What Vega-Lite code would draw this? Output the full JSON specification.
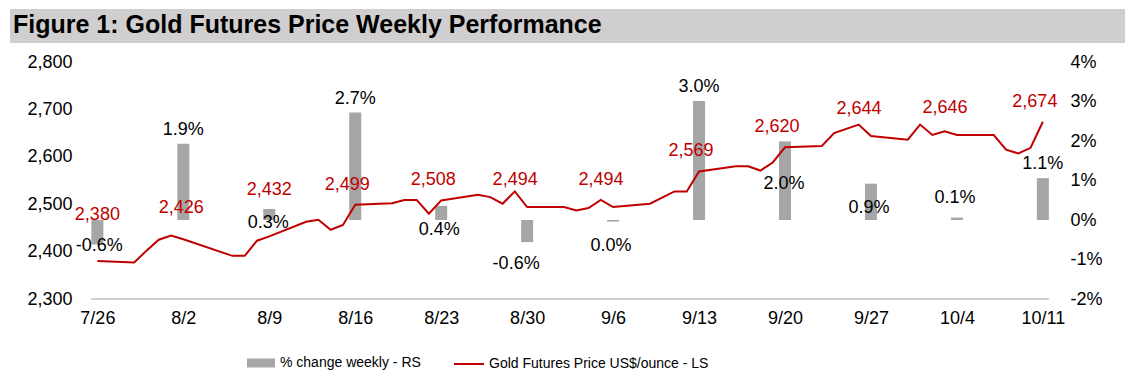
{
  "$schema": "https://vega.github.io/schema/vega-lite/v6.json",
  "padding": {"left": 10, "top": 9, "right": 5, "bottom": 0},
  "spacing": 10,
  "datasets": {
    "daily": [
      {"date": "2024-07-26", "price": 2380},
      {"date": "2024-07-29", "price": 2377},
      {"date": "2024-07-30", "price": 2402},
      {"date": "2024-07-31", "price": 2425},
      {"date": "2024-08-01", "price": 2434},
      {"date": "2024-08-02", "price": 2426},
      {"date": "2024-08-06", "price": 2391},
      {"date": "2024-08-07", "price": 2391},
      {"date": "2024-08-08", "price": 2423},
      {"date": "2024-08-09", "price": 2432},
      {"date": "2024-08-12", "price": 2463},
      {"date": "2024-08-13", "price": 2467},
      {"date": "2024-08-14", "price": 2446},
      {"date": "2024-08-15", "price": 2456},
      {"date": "2024-08-16", "price": 2499},
      {"date": "2024-08-19", "price": 2502},
      {"date": "2024-08-20", "price": 2509},
      {"date": "2024-08-21", "price": 2509},
      {"date": "2024-08-22", "price": 2480},
      {"date": "2024-08-23", "price": 2508},
      {"date": "2024-08-26", "price": 2520},
      {"date": "2024-08-27", "price": 2515},
      {"date": "2024-08-28", "price": 2501},
      {"date": "2024-08-29", "price": 2527},
      {"date": "2024-08-30", "price": 2494},
      {"date": "2024-09-02", "price": 2494},
      {"date": "2024-09-03", "price": 2487},
      {"date": "2024-09-04", "price": 2492},
      {"date": "2024-09-05", "price": 2509},
      {"date": "2024-09-06", "price": 2494},
      {"date": "2024-09-09", "price": 2501},
      {"date": "2024-09-11", "price": 2527},
      {"date": "2024-09-12", "price": 2527},
      {"date": "2024-09-13", "price": 2569},
      {"date": "2024-09-16", "price": 2580},
      {"date": "2024-09-17", "price": 2580},
      {"date": "2024-09-18", "price": 2571},
      {"date": "2024-09-19", "price": 2588},
      {"date": "2024-09-20", "price": 2620},
      {"date": "2024-09-23", "price": 2623},
      {"date": "2024-09-24", "price": 2650},
      {"date": "2024-09-26", "price": 2668},
      {"date": "2024-09-27", "price": 2644},
      {"date": "2024-09-30", "price": 2636},
      {"date": "2024-10-01", "price": 2668},
      {"date": "2024-10-02", "price": 2646},
      {"date": "2024-10-03", "price": 2654},
      {"date": "2024-10-04", "price": 2646},
      {"date": "2024-10-07", "price": 2646},
      {"date": "2024-10-08", "price": 2615},
      {"date": "2024-10-09", "price": 2607},
      {"date": "2024-10-10", "price": 2619},
      {"date": "2024-10-11", "price": 2674}
    ],
    "weekly": [
      {"date": "2024-07-26", "wk": "7/26", "price": 2380, "pct": -0.0062},
      {"date": "2024-08-02", "wk": "8/2", "price": 2426, "pct": 0.0193},
      {"date": "2024-08-09", "wk": "8/9", "price": 2432, "pct": 0.0028},
      {"date": "2024-08-16", "wk": "8/16", "price": 2499, "pct": 0.0272},
      {"date": "2024-08-23", "wk": "8/23", "price": 2508, "pct": 0.0036},
      {"date": "2024-08-30", "wk": "8/30", "price": 2494, "pct": -0.0056},
      {"date": "2024-09-06", "wk": "9/6", "price": 2494, "pct": -0.0004},
      {"date": "2024-09-13", "wk": "9/13", "price": 2569, "pct": 0.0301},
      {"date": "2024-09-20", "wk": "9/20", "price": 2620, "pct": 0.0199},
      {"date": "2024-09-27", "wk": "9/27", "price": 2644, "pct": 0.0092},
      {"date": "2024-10-04", "wk": "10/4", "price": 2646, "pct": 0.0006},
      {"date": "2024-10-11", "wk": "10/11", "price": 2674, "pct": 0.0106}
    ]
  },
  "vconcat": [
    {
      "width": 1115,
      "height": 34,
      "view": {"fill": "#d0cece", "stroke": null},
      "data": {"values": [{"t": "Figure 1: Gold Futures Price Weekly Performance"}]},
      "mark": {"type": "text", "align": "left", "baseline": "middle", "font": "Liberation Sans", "fontWeight": "bold", "fontSize": 25, "dx": 3, "dy": -1, "color": "#000000"},
      "encoding": {
        "x": {"datum": 0, "type": "quantitative", "scale": {"domain": [0, 1]}, "axis": null},
        "text": {"field": "t", "type": "nominal"}
      }
    },
    {
      "width": 1044,
      "height": 237,
      "resolve": {"scale": {"y": "independent"}},
      "layer": [
        {
          "data": {"name": "weekly"},
          "encoding": {
            "x": {"field": "date", "type": "temporal",
              "scale": {"type": "utc", "domain": [{"year": 2024, "month": 7, "date": 19, "hours": 7, "utc": true}, {"year": 2024, "month": 10, "date": 11, "hours": 12, "utc": true}]},
              "axis": {"title": null, "labelExpr": "utcFormat(datum.value, '%-m/%-d')", "labelPadding": 10, "domain": false, "labelFlush": false, "labelOverlap": false,
                "values": [
                  {"year": 2024, "month": 7, "date": 26, "utc": true},
                  {"year": 2024, "month": 8, "date": 2, "utc": true},
                  {"year": 2024, "month": 8, "date": 9, "utc": true},
                  {"year": 2024, "month": 8, "date": 16, "utc": true},
                  {"year": 2024, "month": 8, "date": 23, "utc": true},
                  {"year": 2024, "month": 8, "date": 30, "utc": true},
                  {"year": 2024, "month": 9, "date": 6, "utc": true},
                  {"year": 2024, "month": 9, "date": 13, "utc": true},
                  {"year": 2024, "month": 9, "date": 20, "utc": true},
                  {"year": 2024, "month": 9, "date": 27, "utc": true},
                  {"year": 2024, "month": 10, "date": 4, "utc": true},
                  {"year": 2024, "month": 10, "date": 11, "utc": true}
                ]}},
            "y": {"field": "pct", "type": "quantitative",
              "scale": {"domain": [-0.02, 0.04], "nice": false, "zero": false},
              "axis": {"orient": "right", "title": null, "format": ".0%", "values": [-0.02, -0.01, 0, 0.01, 0.02, 0.03, 0.04], "domain": false, "labelPadding": 16}}
          },
          "layer": [
            {
              "mark": {"type": "bar", "size": 12},
              "encoding": {
                "fill": {"datum": "% change weekly - RS", "type": "nominal", "scale": {"range": ["#a6a6a6"]},
                  "legend": {"title": null, "orient": "none", "legendX": 237, "legendY": 340, "symbolType": "M-1,-0.32H1V0.32H-1Z", "symbolSize": 784, "symbolStrokeWidth": 0, "labelFontSize": 14, "labelFont": "Liberation Sans", "labelColor": "#000000", "labelOffset": 5, "labelLimit": 400}}
              }
            },
            {
              "transform": [{"filter": "indexof(['8/2','8/16','9/13','10/11'], datum.wk) >= 0"}],
              "mark": {"type": "text", "fontSize": 18, "color": "#000000", "baseline": "middle", "dy": -14},
              "encoding": {"text": {"field": "pct", "type": "quantitative", "format": ".1%"}}
            },
            {
              "transform": [{"filter": "datum.wk == '10/4'"}],
              "mark": {"type": "text", "fontSize": 18, "color": "#000000", "baseline": "middle", "dy": -20, "dx": -2},
              "encoding": {"text": {"field": "pct", "type": "quantitative", "format": ".1%"}}
            },
            {
              "transform": [{"filter": "indexof(['8/23','9/6','9/27'], datum.wk) >= 0"}],
              "mark": {"type": "text", "fontSize": 18, "color": "#000000", "baseline": "middle", "dy": 24, "dx": -2},
              "encoding": {"text": {"field": "pct", "type": "quantitative", "format": ".1%"}}
            },
            {
              "transform": [{"filter": "datum.wk == '8/30'"}],
              "mark": {"type": "text", "fontSize": 18, "color": "#000000", "baseline": "middle", "dy": 22, "dx": -11},
              "encoding": {"text": {"field": "pct", "type": "quantitative", "format": ".1%"}}
            },
            {
              "transform": [{"filter": "datum.wk == '8/9'"}],
              "mark": {"type": "text", "fontSize": 18, "color": "#000000", "baseline": "middle", "dy": 14, "dx": -1},
              "encoding": {"text": {"field": "pct", "type": "quantitative", "format": ".1%"}}
            },
            {
              "transform": [{"filter": "datum.wk == '7/26'"}],
              "mark": {"type": "text", "fontSize": 18, "color": "#000000", "baseline": "middle", "dy": 2, "dx": 2},
              "encoding": {"text": {"field": "pct", "type": "quantitative", "format": ".1%"}}
            },
            {
              "transform": [{"filter": "datum.wk == '9/20'"}],
              "mark": {"type": "text", "fontSize": 18, "color": "#000000", "baseline": "middle", "dy": 43, "dx": -1},
              "encoding": {"text": {"field": "pct", "type": "quantitative", "format": ".1%"}}
            }
          ]
        },
        {
          "encoding": {
            "x": {"field": "date", "type": "temporal"},
            "y": {"field": "price", "type": "quantitative",
              "scale": {"domain": [2300, 2800], "nice": false, "zero": false},
              "axis": {"orient": "left", "title": null, "format": ",.0f", "values": [2300, 2400, 2500, 2600, 2700, 2800], "domain": false, "labelPadding": 15, "offset": -77}}
          },
          "layer": [
            {
              "data": {"values": [{"start": "2024-07-25T12:00:00Z", "end": "2024-10-11T12:00:00Z", "base": 2300}]},
              "mark": {"type": "rule", "color": "#d0d0d0", "strokeWidth": 2, "clip": false},
              "encoding": {
                "x": {"field": "start", "type": "temporal"},
                "x2": {"field": "end"},
                "y": {"field": "base", "type": "quantitative"}
              }
            },
            {
              "data": {"name": "daily"},
              "mark": {"type": "line", "strokeWidth": 2},
              "encoding": {
                "stroke": {"datum": "Gold Futures Price US$/ounce - LS", "type": "nominal", "scale": {"range": ["#c00000"]},
                  "legend": {"title": null, "orient": "none", "legendX": 443, "legendY": 339, "symbolType": "stroke", "symbolSize": 900, "symbolStrokeWidth": 2, "labelFontSize": 14, "labelFont": "Liberation Sans", "labelColor": "#000000", "labelOffset": 4, "labelLimit": 400}}
              }
            },
            {
              "data": {"name": "weekly"},
              "transform": [{"filter": "indexof(['7/26','8/9'], datum.wk) >= 0"}],
              "mark": {"type": "text", "fontSize": 18, "color": "#c00000", "baseline": "middle", "dy": -46},
              "encoding": {"text": {"field": "price", "type": "quantitative", "format": ",.0f"}}
            },
            {
              "data": {"name": "weekly"},
              "transform": [{"filter": "datum.wk == '8/2'"}],
              "mark": {"type": "text", "fontSize": 18, "color": "#c00000", "baseline": "middle", "dy": -31, "dx": -2},
              "encoding": {"text": {"field": "price", "type": "quantitative", "format": ",.0f"}}
            },
            {
              "data": {"name": "weekly"},
              "transform": [{"filter": "indexof(['8/30','9/6','9/27','10/4'], datum.wk) >= 0"}],
              "mark": {"type": "text", "fontSize": 18, "color": "#c00000", "baseline": "middle", "dy": -27, "dx": -12},
              "encoding": {"text": {"field": "price", "type": "quantitative", "format": ",.0f"}}
            },
            {
              "data": {"name": "weekly"},
              "transform": [{"filter": "indexof(['8/16','8/23','9/13','9/20','10/11'], datum.wk) >= 0"}],
              "mark": {"type": "text", "fontSize": 18, "color": "#c00000", "baseline": "middle", "dy": -20, "dx": -8},
              "encoding": {"text": {"field": "price", "type": "quantitative", "format": ",.0f"}}
            }
          ]
        }
      ]
    }
  ],
  "config": {
    "font": "Liberation Sans",
    "view": {"stroke": null},
    "locale": {"number": {"decimal": ".", "thousands": ",", "grouping": [3], "currency": ["$", ""], "minus": "-"}},
    "axis": {"labelFont": "Liberation Sans", "labelFontSize": 18, "labelColor": "#000000", "ticks": false, "grid": false},
    "text": {"font": "Liberation Sans"}
  }
}
